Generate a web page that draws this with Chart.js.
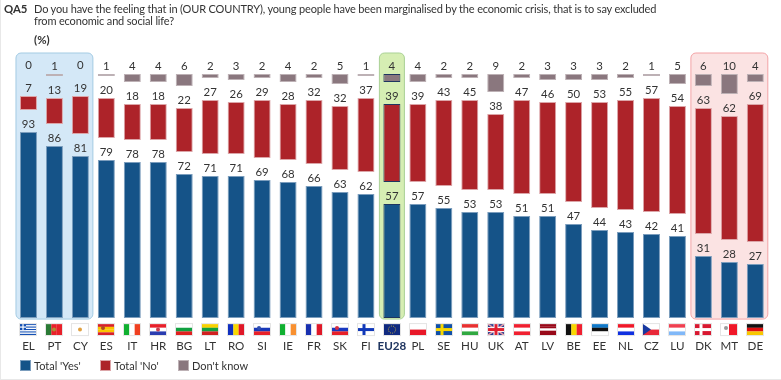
<!DOCTYPE html>
<html>
<head>
<meta charset="utf-8">
<script src="https://cdn.jsdelivr.net/npm/chart.js@4/dist/chart.umd.min.js"></script>
<style>
  html, body { margin: 0; padding: 0; background: #fff; }
  #wrap { position: relative; width: 781px; height: 380px; overflow: hidden; box-sizing: border-box; font-family: Lato, sans-serif; color: #333; }
  #wrap::after { content: ""; position: absolute; left: 0; top: 0; right: 0; bottom: 0; border-left: 1px solid #e8e8e8; border-bottom: 1px solid #e8e8e8; pointer-events: none; }
  canvas { position: absolute; left: 0; top: 0; }
  .t { position: absolute; font-size: 11px; letter-spacing: -0.16px; line-height: 12px; white-space: nowrap; }
  .b { font-weight: 700; letter-spacing: 0; font-size: 11.4px; }
  .lg { position: absolute; top: 359px; height: 12px; line-height: 12px; font-size: 11px; white-space: nowrap; }
  .lg i { position: absolute; left: 0; top: 1px; width: 9px; height: 9px; border: 1px solid; }
  .lg span { position: absolute; left: 14px; top: 1px; }
</style>
</head>
<body>
<div id="wrap">
  <canvas id="chart" width="781" height="380"></canvas>
  <div class="t b" style="left:4px;top:3px">QA5</div>
  <div class="t" style="left:34px;top:3px">Do you have the feeling that in (OUR COUNTRY), young people have been marginalised by the economic crisis, that is to say excluded<br>from economic and social life?</div>
  <div class="t b" style="left:34px;top:34px">(%)</div>
</div>
<script>
const categories = ['EL','PT','CY','ES','IT','HR','BG','LT','RO','SI','IE','FR','SK','FI','EU28','PL','SE','HU','UK','AT','LV','BE','EE','NL','CZ','LU','DK','MT','DE'];
const yesValues  = [93,86,81,79,78,78,72,71,71,69,68,66,63,62,57,57,55,53,53,51,51,47,44,43,42,41,31,28,27];
const noValues   = [7,13,19,20,18,18,22,27,26,29,28,32,32,37,39,39,43,45,38,47,46,50,53,55,57,54,63,62,69];
const dkValues   = [0,1,0,1,4,4,6,2,3,2,4,2,5,1,4,4,2,2,9,2,3,3,3,2,1,5,6,10,4];

// white space between the three blocks of a column, in axis units
const GAP = 11;
const euIndex = categories.indexOf('EU28');

const panels = [
  { from: 'EL', to: 'CY', fill: '#d4e8f7', line: '#a3cbe3' },
  { from: 'EU28', to: 'EU28', fill: '#d6eeb3', line: '#a9d195' },
  { from: 'DK', to: 'DE', fill: '#fbe3e3', line: '#f3a3a6' }
];

// flags: h = horizontal stripes, v = vertical stripes, cross = [outer, inner]
const flags = {
  EL: { h: ['#1450b4','#fff','#1450b4','#fff','#1450b4','#fff','#1450b4','#fff','#1450b4'], box: '#1450b4' },
  PT: { v: ['#2a7a35','#e8202a','#e8202a'], dot: '#b08a30' },
  CY: { h: ['#fff'], dot: '#e0a040' },
  ES: { h: ['#d8202a','#fbc400','#fbc400','#d8202a'], dotLeft: '#b04a20' },
  IT: { v: ['#10b030','#fff','#f04020'] },
  HR: { h: ['#e8202a','#fff','#2a3cb0'], dot: '#c84050' },
  BG: { h: ['#fff','#10a040','#e02020'] },
  LT: { h: ['#f8d000','#10a040','#d02020'] },
  RO: { v: ['#1030c0','#f8d800','#e01828'] },
  SI: { h: ['#fff','#1838b8','#e82028'], dotLeft: '#3050b0' },
  IE: { v: ['#10b030','#fff','#f89030'] },
  FR: { v: ['#1830b0','#fff','#e01828'] },
  SK: { h: ['#fff','#1838c0','#e82028'], dotLeft: '#d83040' },
  FI: { h: ['#fff'], cross: [null,'#1038b8'] },
  EU28: { h: ['#102a80'], ring: '#c8b040' },
  PL: { h: ['#fff','#e81828'] },
  SE: { h: ['#1050a8'], cross: [null,'#f8d800'] },
  HU: { h: ['#e83030','#fff','#30a840'] },
  UK: { h: ['#2a3c90'], cross: ['#fff','#e02030'], diag: true },
  AT: { h: ['#f02030','#fff','#f02030'] },
  LV: { h: ['#980818','#980818','#fff','#980818','#980818'] },
  BE: { v: ['#111','#f8d800','#f02030'] },
  EE: { h: ['#1078c8','#111','#fff'] },
  NL: { h: ['#f01828','#fff','#1030e0'] },
  CZ: { h: ['#fff','#e82838'], tri: '#1838a0' },
  LU: { h: ['#f04050','#fff','#80b8f8'] },
  DK: { h: ['#d81830'], cross: [null,'#fff'] },
  MT: { v: ['#fff','#f01828'], dotLeft: '#999' },
  DE: { h: ['#111','#e01010','#f8c800'] }
};

function drawFlag(ctx, f, cx, top) {
  const w = 16, h = 11, x = Math.round(cx - w / 2), y = top;
  ctx.save();
  if (f.h) f.h.forEach((c, i) => { ctx.fillStyle = c; ctx.fillRect(x, y + i * h / f.h.length, w, h / f.h.length + 0.1); });
  if (f.v) f.v.forEach((c, i) => { ctx.fillStyle = c; ctx.fillRect(x + i * w / f.v.length, y, w / f.v.length + 0.1, h); });
  if (f.box) {
    ctx.fillStyle = f.box; ctx.fillRect(x, y, 6, 6);
    ctx.fillStyle = '#fff'; ctx.fillRect(x + 2.4, y, 1.2, 6); ctx.fillRect(x, y + 2.4, 6, 1.2);
  }
  if (f.tri) {
    ctx.fillStyle = f.tri; ctx.beginPath(); ctx.moveTo(x, y); ctx.lineTo(x + 8, y + h / 2); ctx.lineTo(x, y + h); ctx.fill();
  }
  if (f.diag) {
    ctx.strokeStyle = '#e8a0a8'; ctx.lineWidth = 1.6; ctx.beginPath();
    ctx.moveTo(x, y); ctx.lineTo(x + w, y + h); ctx.moveTo(x + w, y); ctx.lineTo(x, y + h); ctx.stroke();
  }
  if (f.cross) {
    const cxx = f.diag ? x + w / 2 : x + 6;
    if (f.cross[0]) {
      ctx.fillStyle = f.cross[0]; ctx.fillRect(cxx - 2.5, y, 5, h); ctx.fillRect(x, y + h / 2 - 2.5, w, 5);
    }
    ctx.fillStyle = f.cross[1]; ctx.fillRect(cxx - 1.5, y, 3, h); ctx.fillRect(x, y + h / 2 - 1.5, w, 3);
  }
  if (f.dot || f.dotLeft) {
    ctx.fillStyle = f.dot || f.dotLeft;
    ctx.beginPath(); ctx.arc(f.dot ? x + w / 2 : x + 5, f.dot ? y + h / 2 : y + 4, 2, 0, Math.PI * 2); ctx.fill();
  }
  if (f.ring) {
    ctx.strokeStyle = f.ring; ctx.setLineDash([1, 1.2]); ctx.lineWidth = 1;
    ctx.beginPath(); ctx.arc(x + w / 2, y + h / 2, 3.6, 0, Math.PI * 2); ctx.stroke();
    ctx.setLineDash([]);
  }
  ctx.strokeStyle = '#e4e4e4'; ctx.lineWidth = 1; ctx.strokeRect(x - 0.5, y - 0.5, w + 1, h + 1);
  ctx.restore();
}

const panelsPlugin = {
  id: 'panels',
  beforeDraw(chart) {
    const { ctx, scales: { x, y } } = chart;
    panels.forEach(p => {
      const left = x.getPixelForValue(categories.indexOf(p.from)) - 12.5;
      const right = x.getPixelForValue(categories.indexOf(p.to)) + 12.5;
      const top = y.getPixelForValue(y.max) - 21;
      const bottom = y.getPixelForValue(0) + 1;
      ctx.save();
      ctx.beginPath();
      ctx.roundRect(left, top, right - left, bottom - top, 5);
      ctx.fillStyle = p.fill;
      ctx.strokeStyle = p.line;
      ctx.lineWidth = 1;
      ctx.fill();
      ctx.stroke();
      ctx.restore();
    });
  }
};

const labelsPlugin = {
  id: 'valueLabels',
  afterDraw(chart) {
    const { ctx, scales: { x, y } } = chart;
    ctx.save();
    ctx.font = '11.4px Lato';
    ctx.fillStyle = '#333';
    ctx.textAlign = 'center';
    ctx.textBaseline = 'alphabetic';
    [yesValues, noValues, dkValues].forEach((vals, ds) => {
      const meta = chart.getDatasetMeta(ds);
      vals.forEach((v, i) => {
        ctx.fillText(String(v), meta.data[i].x, meta.data[i].y - 4);
      });
    });
    ctx.restore();
    categories.forEach((c, i) => drawFlag(ctx, flags[c], x.getPixelForValue(i), y.getPixelForValue(0) + 6));
  }
};

function barEdge(normal) {
  return c => (c.dataIndex === euIndex ? '#1f3560' : normal);
}

const chart = new Chart(document.getElementById('chart'), {
  type: 'bar',
  data: {
    labels: categories,
    datasets: [
      {
        label: "Total 'Yes'",
        data: yesValues.map(v => [0, v]),
        backgroundColor: '#155388',
        borderColor: barEdge('#7b9dbd')
      },
      {
        label: "Total 'No'",
        data: noValues.map((v, i) => [yesValues[i] + GAP, yesValues[i] + GAP + v]),
        backgroundColor: '#ad2329',
        borderColor: barEdge('#dca5a8')
      },
      {
        label: "Don't know",
        data: dkValues.map((v, i) => [yesValues[i] + noValues[i] + 2 * GAP, yesValues[i] + noValues[i] + 2 * GAP + v]),
        backgroundColor: '#8a777e',
        borderColor: barEdge('#bdb1b5'),
        minBarLength: 1
      }
    ]
  },
  options: {
    responsive: false,
    animation: false,
    events: [],
    datasets: { bar: { barPercentage: 0.655, categoryPercentage: 1, grouped: false, borderWidth: 1, borderSkipped: false } },
    layout: { padding: { left: 15.5, right: 12.7, top: 74, bottom: 14 } },
    scales: {
      x: {
        grid: { display: false },
        border: { display: false },
        ticks: {
          autoSkip: false,
          maxRotation: 0,
          padding: 13,
          color: c => (c.index === euIndex ? '#1f3560' : '#333'),
          font: c => ({ family: 'Lato', size: 11.6, weight: c.index === euIndex ? '700' : '400' })
        }
      },
      y: { display: false, min: 0, max: 122 }
    },
    plugins: {
      title: { display: false },
      tooltip: { enabled: false },
      legend: { display: false }
    }
  },
  plugins: [panelsPlugin, labelsPlugin]
});

// legend is plain html so it can sit tight under the flags like the original
const legendLeft = [20, 100, 178];
const legendEdge = ['#7b9dbd', '#dca5a8', '#bdb1b5'];
chart.data.datasets.forEach((ds, i) => {
  const item = document.createElement('div');
  item.className = 'lg';
  item.style.left = legendLeft[i] + 'px';
  const box = document.createElement('i');
  box.style.background = ds.backgroundColor;
  box.style.borderColor = legendEdge[i];
  const text = document.createElement('span');
  text.textContent = ds.label;
  item.append(box, text);
  document.getElementById('wrap').appendChild(item);
});
</script>
</body>
</html>
